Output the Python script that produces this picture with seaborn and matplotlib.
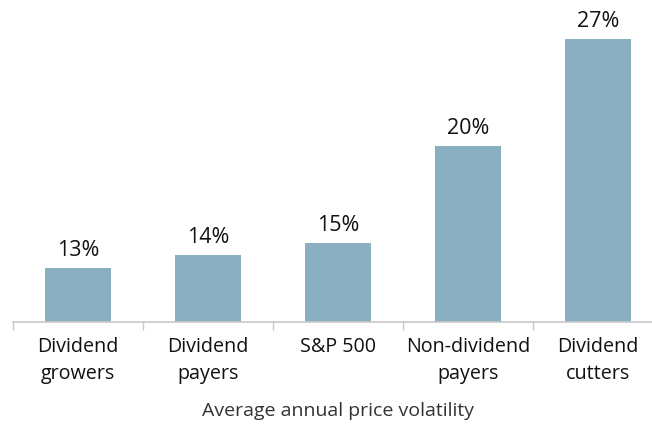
import numpy as np
import pandas as pd
import seaborn as sns
from matplotlib import pyplot as plt

categories = ["Dividend\ngrowers", "Dividend\npayers", "S&P 500", "Non-dividend\npayers", "Dividend\ncutters"]
volatility = [13.0, 13.8, 14.52, 20.45, 27.0]
labels = ["13%", "14%", "15%", "20%", "27%"]

df = pd.DataFrame({"group": categories, "vol": volatility})

sns.set_style("white")
plt.rcParams['font.family'] = ['Open Sans', 'DejaVu Sans']

fig = plt.figure(figsize=(6.52, 4.25), dpi=100)
ax = fig.add_axes([13 / 652, 1 - 322 / 425, 650 / 652, 322 / 425])
sns.barplot(data=df, x="group", y="vol", color="#8AAFC0", saturation=1, width=0.51, edgecolor="none", ax=ax)

ax.set_ylim(9.7, 29.35)
ax.set_xlim(-0.5, 4.5)
for s in ["top", "right", "left"]:
    ax.spines[s].set_visible(False)
ax.spines["bottom"].set_color("#C8C8C8")
ax.spines["bottom"].set_linewidth(1.2)
ax.set_yticks([])
ax.set_ylabel("")
ax.set_xticks(np.arange(-0.5, 5, 1), minor=True)
ax.tick_params(axis="x", which="minor", bottom=True, length=6, color="#C8C8C8", width=1.0, direction="out")
ax.tick_params(axis="x", which="major", bottom=False, length=0, pad=11, labelsize=14.2, labelcolor="#111111")
for t in ax.get_xticklabels():
    t.set_linespacing(1.45)
ax.set_xlabel("Average annual price volatility", fontsize=14, color="#333333", labelpad=13)

for i, (v, lab) in enumerate(zip(volatility, labels)):
    ax.annotate(lab, (i, v), xytext=(0, 5), textcoords="offset points", ha="center", va="bottom", fontsize=15.5, color="#111111")

fig.savefig("out.png", dpi=100)
